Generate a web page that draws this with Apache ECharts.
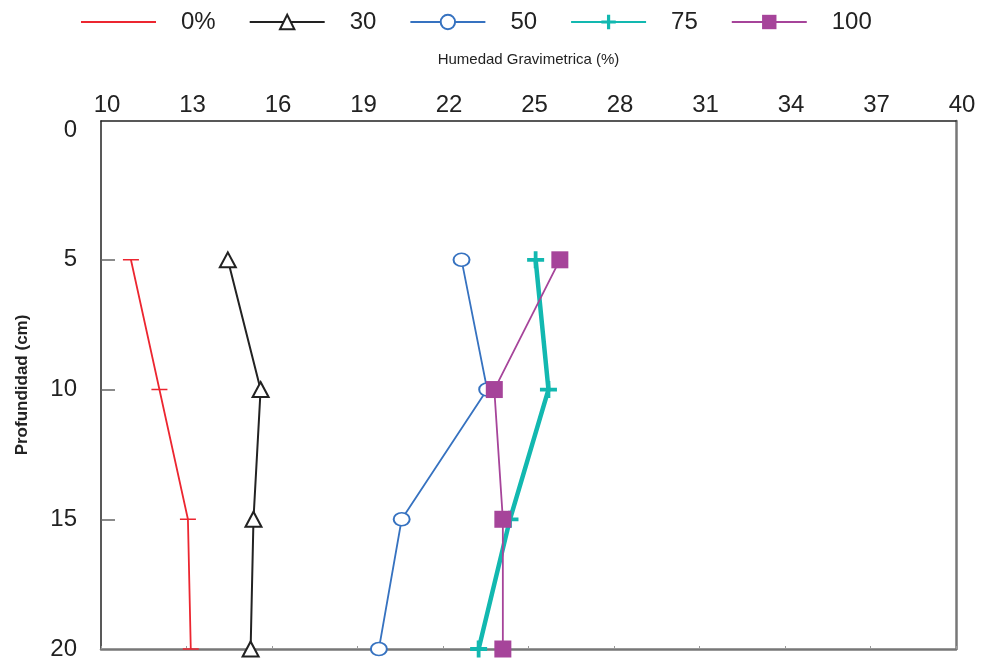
<!DOCTYPE html>
<html>
<head>
<meta charset="utf-8">
<script src="https://cdn.jsdelivr.net/npm/echarts@6/dist/echarts.min.js"></script>
<style>
  html, body { margin: 0; padding: 0; background: #fff; }
  #chart { width: 981px; height: 665px; }
</style>
</head>
<body>
<div id="chart"></div>
<script>
// Profundidades (cm) y humedad gravimetrica (%) por tratamiento
var depths = [5, 10, 15, 20];
var seriesNames = ["0%", "30", "50", "75", "100"];
var hum0 = [11.05, 12.05, 13.05, 13.15];
var hum30 = [14.45, 15.6, 15.35, 15.25];
var hum50 = [22.65, 23.55, 20.55, 19.75];
var hum75 = [25.25, 25.7, 24.35, 23.25];
var hum100 = [26.1, 23.8, 24.1, 24.1];
var xTicks = [10, 13, 16, 19, 22, 25, 28, 31, 34, 37, 40];
var yTicks = [0, 5, 10, 15, 20];

var chart = echarts.init(document.getElementById("chart"));

// Pairs x (humedad) with y (profundidad)
function pairs(values) {
	return values.map(function (v, i) { return [v, depths[i]]; });
}

var plusPath = "path://M7,0 h4 v7 h7 v4 h-7 v7 h-4 v-7 h-7 v-4 h7 z";
// horizontal dash; tiny corner dots keep the box square
var dashPath = "path://M0,7.2 h16 v1.6 h-16 z M0,0 h0.05 v0.05 h-0.05 z M15.95,15.95 h0.05 v0.05 h-0.05 z";
var font = "Liberation Sans, Arial, sans-serif";

var option = {
	animation: false,
	backgroundColor: "#fff",
	legend: {
		left: 75,
		top: 5,
		itemWidth: 75,
		itemHeight: 18,
		itemGap: 33,
		data: seriesNames,
		textStyle: { fontFamily: font, fontSize: 24, color: "#222", padding: [0, 0, 0, 20] }
	},
	grid: { left: 101, right: 25, top: 121, bottom: 16 },
	xAxis: [{
		type: "value",
		position: "top",
		min: 10,
		max: 40,
		interval: 3,
		name: "Humedad Gravimetrica (%)",
		nameLocation: "middle",
		nameGap: 54,
		nameTextStyle: { fontFamily: font, fontSize: 15, color: "#222" },
		axisLine: { show: true, onZero: false, lineStyle: { color: "#222", width: 1.5 } },
		axisTick: { show: false },
		splitLine: { show: false },
		axisLabel: {
			fontFamily: font, fontSize: 24, color: "#222", margin: 4,
			padding: [0, 0, 0, 12],
			customValues: xTicks
		}
	}, {
		type: "value",
		position: "bottom",
		min: 10,
		max: 40,
		interval: 3,
		axisLine: { show: true, onZero: false, lineStyle: { color: "#777", width: 2.5 } },
		axisTick: { show: true, inside: true, length: 3, lineStyle: { color: "#999" } },
		axisLabel: { show: false },
		splitLine: { show: false }
	}],
	yAxis: [{
		type: "value",
		inverse: true,
		min: -0.35,
		max: 20,
		name: "Profundidad (cm)",
		nameLocation: "middle",
		nameGap: 70,
		nameTextStyle: { fontFamily: font, fontSize: 17, fontWeight: "bold", color: "#222" },
		axisLine: { show: true, onZero: false, lineStyle: { color: "#222", width: 1.5 } },
		axisTick: {
			show: true, inside: true, length: 14,
			customValues: [5, 10, 15],
			lineStyle: { color: "#666", width: 1.5 }
		},
		splitLine: { show: false },
		axisLabel: {
			fontFamily: font, fontSize: 24, color: "#222", margin: 24,
			customValues: yTicks
		}
	}, {
		type: "value",
		inverse: true,
		position: "right",
		min: -0.35,
		max: 20,
		axisLine: { show: true, onZero: false, lineStyle: { color: "#777", width: 2.5 } },
		axisTick: { show: false },
		axisLabel: { show: false },
		splitLine: { show: false }
	}],
	series: [{
		name: "0%",
		type: "line",
		data: pairs(hum0),
		symbol: dashPath,
		symbolSize: 16,
		color: "#ec2630",
		lineStyle: { width: 1.8, color: "#ec2630" },
		itemStyle: { color: "#ec2630" }
	}, {
		name: "30",
		type: "line",
		data: pairs(hum30),
		symbol: "triangle",
		symbolSize: [16, 15],
		color: "#222",
		lineStyle: { width: 2, color: "#222" },
		itemStyle: { color: "#fff", borderColor: "#222", borderWidth: 2 }
	}, {
		name: "50",
		type: "line",
		data: pairs(hum50),
		symbol: "circle",
		symbolSize: [16, 13],
		color: "#3672c0",
		lineStyle: { width: 1.8, color: "#3672c0" },
		itemStyle: { color: "#fff", borderColor: "#3672c0", borderWidth: 1.8 }
	}, {
		name: "75",
		type: "line",
		data: pairs(hum75),
		symbol: plusPath,
		symbolSize: 17,
		color: "#12b8b0",
		lineStyle: { width: 4.5, color: "#12b8b0" },
		itemStyle: { color: "#12b8b0" }
	}, {
		name: "100",
		type: "line",
		data: pairs(hum100),
		symbol: "rect",
		symbolSize: 17,
		color: "#a6449a",
		lineStyle: { width: 1.8, color: "#a6449a" },
		itemStyle: { color: "#a6449a" }
	}]
};

chart.setOption(option);
</script>
</body>
</html>
